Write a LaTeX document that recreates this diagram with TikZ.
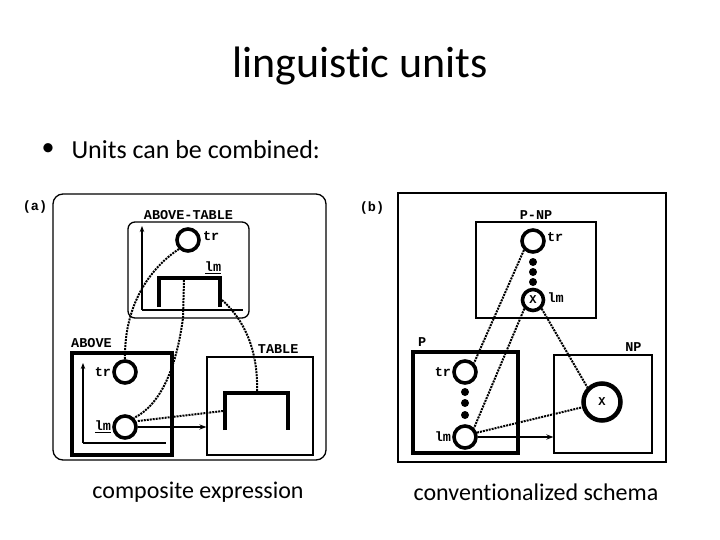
\documentclass[tikz,border=0pt]{standalone}
\usepackage{fontspec}
\setmainfont[Ligatures=NoCommon]{Carlito}
\newfontfamily\typefont[BoldFont={Liberation Mono Bold}]{Liberation Mono}
\usepackage{tikz}
\usetikzlibrary{positioning,arrows.meta,calc}

\begin{document}
\begin{tikzpicture}[x=1pt,y=-1pt,
    unitbox/.style={draw,line width=1.3pt,inner sep=0pt},
    profbox/.style={draw,line width=4pt,inner sep=0pt},
    entity/.style={circle,draw,line width=3.6pt,minimum size=22pt,inner sep=0pt,font=\typefont\bfseries\fontsize{12}{12}\selectfont},
    blob/.style={circle,fill,minimum size=8pt,inner sep=0pt},
    corr/.style={densely dotted,line width=2pt},
    tag/.style={font=\typefont\bfseries\fontsize{13.5}{13.5}\selectfont,inner sep=1pt},
    bracket/.style={line width=4.5pt},
    axis/.style={line width=1.1pt}]
    \useasboundingbox (0,0) rectangle (720,540);
    \node[font=\fontsize{44}{48}\selectfont] (title) at (360,66) {linguistic units};
    \node[font=\fontsize{26}{30}\selectfont] (bull) at (48,150) {\textbullet};
    \node[anchor=west,font=\fontsize{26}{30}\selectfont] (point) at (68,150) {Units can be combined:};
    % (a) composite expression
    \node[unitbox,rounded corners=10pt,minimum width=273pt,minimum height=266pt] (panelA) at (189.5,327) {};
    \node[tag] (labA) at (35,207) {(a)};
    \node[unitbox,rounded corners=7pt,minimum width=121pt,minimum height=96pt] (comp) at (188.5,270) {};
    \node[tag,above=1pt of comp] (compname) {ABOVE-TABLE};
    \draw[axis,-{Stealth[length=6pt]}] (142,310) -- (142,226);
    \draw[axis] (142,310) -- (243,310);
    \node[entity] (ctr) at (188,240) {};
    \node[tag,right=1pt of ctr,yshift=4pt] {tr};
    \draw[bracket] (159,307) -- (159,278) -- (220,278) -- (220,307);
    \coordinate (clmtop) at (184,280);
    \coordinate (clmleg) at (222,300);
    \node[tag] at (213,268) {\underline{lm}};
    \node[profbox,minimum width=100pt,minimum height=102pt] (above) at (122,403.5) {};
    \node[tag,anchor=south west,yshift=2pt] at (above.north west) {ABOVE};
    \draw[axis,-{Stealth[length=6pt]}] (83,443) -- (83,363);
    \draw[axis] (83,443) -- (166,443);
    \node[entity] (atr) at (125,372) {};
    \node[tag,left=0pt of atr] {tr};
    \node[entity] (alm) at (125,427) {};
    \node[tag,left=0pt of alm] {\underline{lm}};
    \node[unitbox,minimum width=106pt,minimum height=98pt] (table) at (260,406) {};
    \node[tag,anchor=south east,xshift=-14pt,yshift=2pt] at (table.north east) {TABLE};
    \draw[bracket] (225,430) -- (225,393) -- (288,393) -- (288,430);
    \coordinate (tlmtop) at (257,391);
    \coordinate (tlmleg) at (223,411);
    \draw[axis,-{Stealth[length=7pt]}] (alm.east) -- (alm.east -| table.west);
    \draw[corr] (ctr.south west) .. controls (150,268) and (124,305) .. (atr.north);
    \draw[corr] (clmtop) -- (183,318) .. controls (176,370) and (160,405) .. (alm.north east);
    \draw[corr] (clmleg) .. controls (250,325) and (258,360) .. (tlmtop);
    \draw[corr] (alm.east) ++(0,-6) -- (tlmleg);
    % (b) conventionalized schema
    \node[unitbox,minimum width=268pt,minimum height=269pt] (panelB) at (532,327.5) {};
    \node[tag] (labB) at (372,208) {(b)};
    \node[unitbox,minimum width=120pt,minimum height=96pt] (schema) at (536,270) {};
    \node[tag,above=1pt of schema] (schemaname) {P-NP};
    \node[entity] (str) at (533,241) {};
    \node[tag,right=0pt of str,yshift=4pt] {tr};
    \foreach \y in {262,272,282} \node[blob] at (533,\y) {};
    \node[entity,minimum size=21pt] (slm) at (533,300) {X};
    \node[tag,right=1pt of slm,yshift=2pt] {lm};
    \node[profbox,minimum width=105pt,minimum height=101pt] (prep) at (465.5,402.5) {};
    \node[tag,anchor=south west,xshift=6pt,yshift=2pt] at (prep.north west) {P};
    \node[entity] (ptr) at (465,372) {};
    \node[tag,left=0pt of ptr] {tr};
    \foreach \y in {392,403,415} \node[blob] at (465,\y) {};
    \node[entity] (plm) at (465,437) {};
    \node[tag,left=0pt of plm] {lm};
    \node[unitbox,minimum width=98pt,minimum height=98pt] (noun) at (603,404) {};
    \node[tag,anchor=south east,xshift=-10pt,yshift=2pt] at (noun.north east) {NP};
    \node[entity,minimum size=37pt,line width=4.5pt] (nx) at (602,402) {X};
    \draw[axis,-{Stealth[length=7pt]}] (plm.east) -- (plm.east -| noun.west);
    \draw[corr] (str.south west) -- (ptr.north east);
    \draw[corr] (slm.south west) -- (plm.north east);
    \draw[corr] (slm.south east) -- (nx.north west);
    \draw[corr] (plm.20) -- (nx.195);
    \node[font=\fontsize{24}{28}\selectfont] (capA) at (198,492) {composite expression};
    \node[font=\fontsize{24}{28}\selectfont] (capB) at (536,492) {conventionalized schema};
\end{tikzpicture}
\end{document}
